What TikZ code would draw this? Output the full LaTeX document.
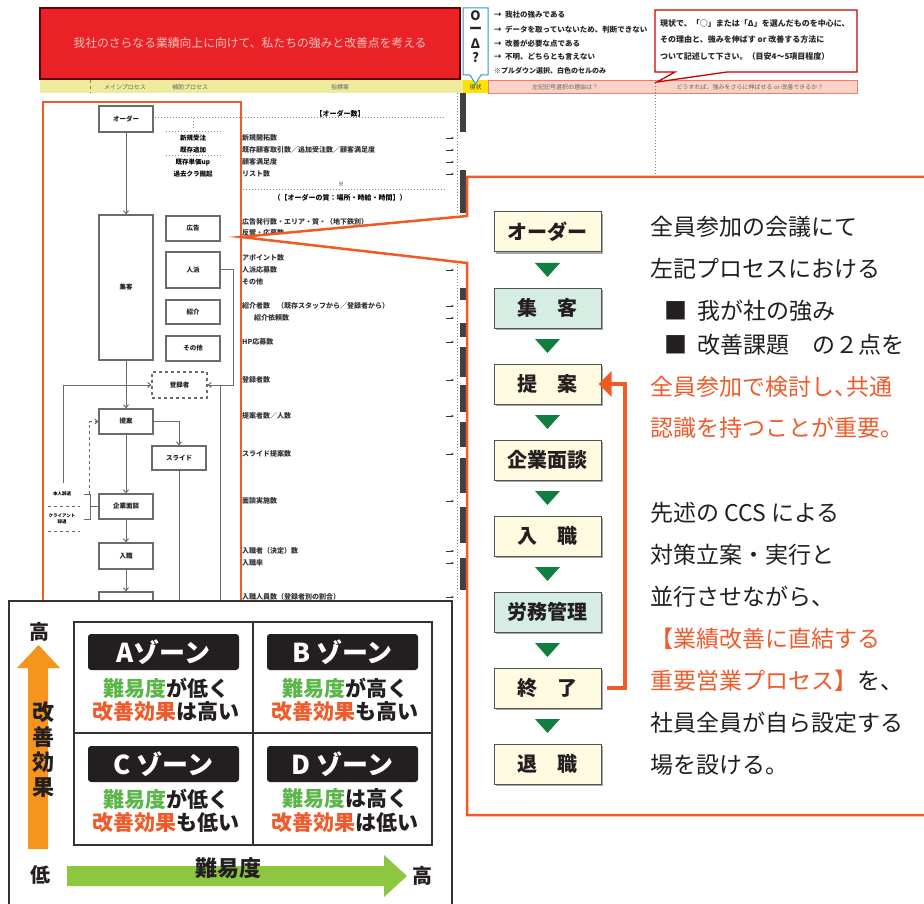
\documentclass[tikz,border=0pt]{standalone}
\usepackage{fontspec}
\setmainfont{Noto Sans CJK JP}
\usetikzlibrary{arrows.meta,shadows,calc}
\definecolor{orl}{HTML}{F15A24}
\definecolor{ortxt}{HTML}{EF5B2A}
\definecolor{grtxt}{HTML}{5BB548}
\definecolor{ink}{HTML}{231F20}
\definecolor{hdrred}{HTML}{EA2227}
\definecolor{hdrtxt}{HTML}{F7C3BE}
\definecolor{yrow}{HTML}{EEEB9C}
\definecolor{prow}{HTML}{F9D3C4}
\definecolor{byel}{HTML}{FEFBE0}
\definecolor{bmint}{HTML}{D6EDE4}
\definecolor{tgreen}{HTML}{0F7F3F}
\definecolor{arrO}{HTML}{F7941D}
\definecolor{arrG}{HTML}{8DC63F}
\definecolor{sgray}{HTML}{6E6A68}
\begin{document}
\begin{tikzpicture}[x=1pt,y=-1pt,
  fbox/.style={draw=gray!65!black, line width=1pt, minimum width=107pt, minimum height=40pt, inner sep=0pt,
    font=\fontsize{20}{20}\selectfont\bfseries, text=ink,
    drop shadow={shadow xshift=1.8pt, shadow yshift=-1.8pt, fill=gray!70, opacity=1}},
  ctext/.style={anchor=west, inner sep=0pt, font=\fontsize{23}{23}\selectfont, text=ink},
  zonelab/.style={fill=ink, rounded corners=3pt, minimum width=151pt, minimum height=36pt, inner sep=0pt,
    text=white, font=\fontsize{26}{26}\selectfont\bfseries},
  ztext/.style={inner sep=0pt, font=\fontsize{21}{21}\selectfont\bfseries, text=ink},
  axlab/.style={inner sep=0pt, font=\fontsize{20}{20}\selectfont\bfseries, text=ink},
  sb/.style={draw=sgray, line width=1.1pt, fill=white, inner sep=0pt, text=ink,
    font=\fontsize{6.5}{6.5}\selectfont\bfseries},
  stxt/.style={anchor=west, inner sep=0pt, text=black!80, font=\fontsize{7}{7}\selectfont\bfseries},
  sline/.style={draw=sgray, line width=1pt},
  sarrow/.style={sline, -{Straight Barb[length=3pt,width=5pt]}},
  legtxt/.style={anchor=west, inner sep=0pt, text=black!85, font=\fontsize{7.5}{7.5}\selectfont\bfseries},
  legsym/.style={inner sep=0pt, text=black!85, font=\fontsize{13}{13}\selectfont\bfseries},
  hdtxt/.style={inner sep=0pt, text=black!60, font=\fontsize{6}{6}\selectfont}
]
\useasboundingbox (0,0) rectangle (924,904);
\clip (0,0) rectangle (924,904);

% ---------------- spreadsheet background ----------------
\node[draw=red!40!black, line width=1.2pt, fill=hdrred, minimum width=420pt, minimum height=71pt, inner sep=0pt,
  text=hdrtxt, font=\fontsize{11.8}{11.8}\selectfont] (title) at (250,43.5)
  {我社のさらなる業績向上に向けて、私たちの強みと改善点を考える};
\fill[yrow] (40,80) rectangle (463,93);
\draw[black!50, dashed] (90,80) -- (90,93);
\node[hdtxt] (h1) at (125,87) {メインプロセス};
\node[hdtxt] (h2) at (190,87) {補助プロセス};
\node[hdtxt] (h3) at (340,87) {指標案};
\fill[yellow!85!orange] (463,80) rectangle (488,93);
\node[hdtxt, text=black!75] (h4) at (475.5,87) {現状};
\filldraw[fill=prow, draw=red!55] (488,80) rectangle (857,93);
\node[hdtxt] (h5) at (565,87) {左記記号選択の理由は？};
\node[hdtxt] (h6) at (750,87) {どうすれば、強みをさらに伸ばせる or 改善できるか？};
\draw[black!50, dotted, line width=1pt] (655,80) -- (655,177);

% legend
\filldraw[fill=white, draw=blue!35!cyan!60!gray, line width=1pt]
  (463,8) -- (488,8) -- (488,75) -- (481,75) -- (475.5,84) -- (470,75) -- (463,75) -- cycle;
\node[legsym] (l1) at (475.5,16) {O};
\node[legsym] (l2) at (475.5,30) {ー};
\node[legsym] (l3) at (475.5,44) {Δ};
\node[legsym] (l4) at (475.5,58) {?};
\node[legtxt] (lt1) at (494,15) {→\ \ 我社の強みである};
\node[legtxt] (lt2) at (494,30) {→\ \ データを取っていないため、判断できない};
\node[legtxt] (lt3) at (494,44) {→\ \ 改善が必要な点である};
\node[legtxt] (lt4) at (494,57) {→\ \ 不明、どちらとも言えない};
\node[legtxt, font=\fontsize{7}{7}\selectfont\bfseries] (lt5) at (494,71) {※プルダウン選択、白色のセルのみ};

% red note callout
\filldraw[fill=white, draw=red!80!black, line width=1.3pt]
  (655,10) -- (857,10) -- (857,72) -- (727,72) -- (657,82) -- (675,72) -- (655,72) -- cycle;
\node[legtxt, font=\fontsize{8}{8}\selectfont\bfseries] (rn1) at (660,23) {現状で、「○」または「Δ」を選んだものを中心に、};
\node[legtxt, font=\fontsize{8}{8}\selectfont\bfseries] (rn2) at (660,39) {その理由と、強みを伸ばす or 改善する方法に};
\node[legtxt, font=\fontsize{8}{8}\selectfont\bfseries] (rn3) at (660,56) {ついて記述して下さい。（目安4～5項目程度）};

% right strip of the sheet
\draw[black!50, dotted, line width=1pt] (457,93) -- (457,600);
\foreach \a/\b in {93/132,170/213,288/300,323/337,347/377,385/412,422/447,458/493,507/543,558/590}
  \fill[black!75] (460,\a) rectangle (466,\b);
\foreach \yy in {138,150,162,174,258,270,306,318,342,380,416,454,501,551,563,597}
  \draw[black!80, line width=0.8pt, -{Latex[length=2.5pt,width=2.5pt]}] (446,\yy) -- (454,\yy);

% flowchart in the sheet
\node[sb, minimum width=54pt, minimum height=26pt] (s1) at (126,119) {オーダー};
\node[sb, minimum width=54pt, minimum height=145pt] (s2) at (126,287.5) {集客};
\node[sb, minimum width=54pt, minimum height=25pt] (s3) at (193,228.5) {広告};
\node[sb, minimum width=54pt, minimum height=36pt] (s4) at (193,270) {人派};
\node[sb, minimum width=54pt, minimum height=24pt] (s5) at (193,312) {紹介};
\node[sb, minimum width=54pt, minimum height=25pt] (s6) at (193,348.5) {その他};
\node[sb, dashed, minimum width=55pt, minimum height=26pt] (s7) at (179.5,385) {登録者};
\node[sb, minimum width=54pt, minimum height=25pt] (s8) at (126,421.5) {提案};
\node[sb, minimum width=54pt, minimum height=24pt] (s9) at (179,458) {スライド};
\node[sb, minimum width=54pt, minimum height=25pt] (s10) at (126,506.5) {企業面談};
\node[sb, minimum width=54pt, minimum height=26pt] (s11) at (126,556) {入職};
\node[sb, minimum width=54pt, minimum height=36pt] (s12) at (126,610) {};
\coordinate (c1) at (233,270);
\coordinate (c2) at (233,385);
\coordinate (c3) at (63,483);
\coordinate (c4) at (63,385);
\coordinate (c5) at (179,620);
\coordinate (c6) at (220,385);
\coordinate (c7) at (220,620);
\coordinate (c8) at (89,494);
\coordinate (c9) at (89,421.5);
\draw[sarrow] (s1) -- (s2);
\draw[sarrow] (s4.east) -- (c1) -- (c2) -- (s7.east);
\draw[sarrow] (c3) -- (c4) -- (s7.west);
\draw[sarrow] (s2) -- (s8);
\draw[sarrow] (s8.east) -| (s9.north);
\draw[sline] (s9.south) -- (c5);
\draw[sline] (c6) -- (c7);
\draw[sarrow] (s8) -- (s10);
\draw[sarrow] (s10) -- (s11);
\draw[sarrow] (s11) -- (s12);
\draw[sarrow, dashed] (c8) -- (c9) -- (s8.west);
\coordinate (d1) at (90,506.5);
\draw[sline] (s10.west) -- (d1);
\draw[sline] (84,494) -- (90,494) -- (90,519) -- (84,519);
\draw[black!60, dashed] (48,506) -- (80,506);
\draw[black!60, dashed] (48,531) -- (80,531);
\node[inner sep=0pt, font=\fontsize{4.5}{4.5}\selectfont\bfseries] (n1) at (62,494) {本人辞退};
\node[inner sep=0pt, align=center, font=\fontsize{4.5}{5.5}\selectfont\bfseries] (n2) at (62,519) {クライアント\\辞退};
\draw[black!45, dotted, line width=1pt] (155,118) -- (445,118);
\draw[black!45, dotted, line width=1pt] (193,118) -- (193,130);
\draw[black!45, dotted, line width=1pt] (166,132) -- (222,132);
\draw[black!45, dotted, line width=1pt] (166,156) -- (222,156);
\node[inner sep=0pt, font=\fontsize{6.5}{6.5}\selectfont\bfseries] (k1) at (193,138) {新規受注};
\node[inner sep=0pt, font=\fontsize{6.5}{6.5}\selectfont\bfseries] (k2) at (193,150) {既存追加};
\node[inner sep=0pt, font=\fontsize{6.5}{6.5}\selectfont\bfseries] (k3) at (193,162) {既存単価up};
\node[inner sep=0pt, font=\fontsize{6.5}{6.5}\selectfont\bfseries] (k4) at (193,174) {過去クラ掘起};
\node[inner sep=0pt, font=\fontsize{7}{7}\selectfont\bfseries] (m0) at (340,114) {【オーダー数】};
\node[stxt] (m1) at (242,138) {新規開拓数};
\node[stxt] (m2) at (242,150) {既存顧客取引数／追加受注数／顧客満足度};
\node[stxt] (m3) at (242,162) {顧客満足度};
\node[stxt] (m4) at (242,174) {リスト数};
\node[inner sep=0pt, font=\fontsize{6}{6}\selectfont] (m5) at (341,184) {※};
\draw[black!45, dotted, line width=1pt] (240,190) -- (445,190);
\node[inner sep=0pt, font=\fontsize{7}{7}\selectfont\bfseries] (m6) at (340,198) {（【オーダーの質：場所・時給・時間】）};
\node[stxt] (m7) at (242,222) {広告発行数・エリア・質・（地下鉄別）};
\node[stxt] (m8) at (242,233) {反響・応募数};
\node[stxt] (m9) at (242,258) {アポイント数};
\node[stxt] (m10) at (242,270) {人派応募数};
\node[stxt] (m11) at (242,282) {その他};
\node[stxt] (m12) at (242,306) {紹介者数\quad（既存スタッフから／登録者から）};
\node[stxt] (m13) at (254,318) {紹介依頼数};
\node[stxt] (m14) at (242,342) {HP応募数};
\node[stxt] (m15) at (242,380) {登録者数};
\node[stxt] (m16) at (242,416) {提案者数／人数};
\node[stxt] (m17) at (242,454) {スライド提案数};
\node[stxt] (m18) at (242,501) {面談実施数};
\node[stxt] (m19) at (242,551) {入職者（決定）数};
\node[stxt] (m20) at (242,563) {入職率};
\node[stxt] (m21) at (242,597) {入職人員数（登録者別の割合）};

% orange highlight rectangle
\draw[orl, line width=2.5pt] (43,102) rectangle (241,910);

% ---------------- zoom callout ----------------
\filldraw[fill=white, draw=orl, line width=2.5pt, line join=miter]
  (935,177) -- (467,177) -- (467,216) -- (241,237) -- (467,263) -- (467,815) -- (935,815);

\node[fbox, fill=byel]  (f1) at (547.5,232) {オーダー};
\node[fbox, fill=bmint] (f2) at (547.5,308) {集\hspace{1em}客};
\node[fbox, fill=byel]  (f3) at (547.5,384) {提\hspace{1em}案};
\node[fbox, fill=byel]  (f4) at (547.5,460) {企業面談};
\node[fbox, fill=byel]  (f5) at (547.5,536) {入\hspace{1em}職};
\node[fbox, fill=bmint] (f6) at (547.5,612) {労務管理};
\node[fbox, fill=byel]  (f7) at (547.5,688) {終\hspace{1em}了};
\node[fbox, fill=byel]  (f8) at (547.5,764) {退\hspace{1em}職};
\foreach \k in {0,...,6}
  \fill[tgreen] (535,263+76*\k) -- (560,263+76*\k) -- (547.5,277+76*\k) -- cycle;

\coordinate (oc) at (625,688);
\draw[orl, line width=4pt, -{Triangle[length=13pt,width=25pt]}]
  ([xshift=5pt]f7.east) -- (oc) |- ([xshift=-3pt]f3.east);

\node[ctext] (t1) at (650,227) {全員参加の会議にて};
\node[ctext] (t2) at (650,269) {左記プロセスにおける};
\node[ctext] (t3) at (664,311) {■\hspace{10pt}我が社の強み};
\node[ctext] (t4) at (664,345) {■\hspace{10pt}改善課題\hspace{1em}の２点を};
\node[ctext, text=ortxt] (t5) at (650,387) {全員参加で検討し、\hspace{-0.45em}共通};
\node[ctext, text=ortxt] (t6) at (650,428) {認識を持つことが重要。};
\node[ctext] (t7) at (650,513) {先述の CCS による};
\node[ctext] (t8) at (650,555) {対策立案・実行と};
\node[ctext] (t9) at (650,597) {並行させながら、};
\node[ctext, text=ortxt] (t10) at (650,639) {【業績改善に直結する};
\node[ctext] (t11) at (650,681) {\textcolor{ortxt}{重要営業プロセス】}を、};
\node[ctext] (t12) at (650,723) {社員全員が自ら設定する};
\node[ctext] (t13) at (650,765) {場を設ける。};

% ---------------- zone matrix box ----------------
\filldraw[fill=white, draw=black!80, line width=2pt] (9,601) rectangle (452,915);
\draw[black!80, line width=1.5pt] (74,622) rectangle (432,845);
\draw[black!80, line width=1.5pt] (253,622) -- (253,845);
\draw[black!80, line width=1.5pt] (74,733) -- (432,733);

\node[zonelab] (za) at (163.5,652) {Aゾーン};
\node[zonelab] (zb) at (342.5,652) {B ゾーン};
\node[zonelab] (zc) at (163.5,764) {C ゾーン};
\node[zonelab] (zd) at (342.5,764) {D ゾーン};
\node[ztext] (a1) at (166,688) {\textcolor{grtxt}{難易度}が低く};
\node[ztext] (a2) at (166,712) {\textcolor{ortxt}{改善効果}は高い};
\node[ztext] (b1) at (345,688) {\textcolor{grtxt}{難易度}が高く};
\node[ztext] (b2) at (345,712) {\textcolor{ortxt}{改善効果}も高い};
\node[ztext] (c1t) at (166,799) {\textcolor{grtxt}{難易度}が低く};
\node[ztext] (c2t) at (166,823) {\textcolor{ortxt}{改善効果}も低い};
\node[ztext] (d1t) at (345,799) {\textcolor{grtxt}{難易度}は高く};
\node[ztext] (d2t) at (345,823) {\textcolor{ortxt}{改善効果}は低い};

\fill[arrO] (28,849) -- (28,668) -- (17,668) -- (38.5,645) -- (60,668) -- (48,668) -- (48,849) -- cycle;
\fill[arrG] (67,866) -- (384,866) -- (384,855) -- (407,876) -- (384,897) -- (384,886) -- (67,886) -- cycle;
\node[axlab] (yh) at (39,632) {高};
\node[axlab] (yl) at (40,875) {低};
\node[axlab] (xh) at (422,876) {高};
\node[inner sep=0pt, align=center, text=ink, font=\fontsize{22}{25}\selectfont\bfseries] (yt) at (43,750) {改\\善\\効\\果};
\node[inner sep=0pt, text=ink, font=\fontsize{22}{22}\selectfont\bfseries] (xt) at (228,868) {難易度};
\end{tikzpicture}
\end{document}
